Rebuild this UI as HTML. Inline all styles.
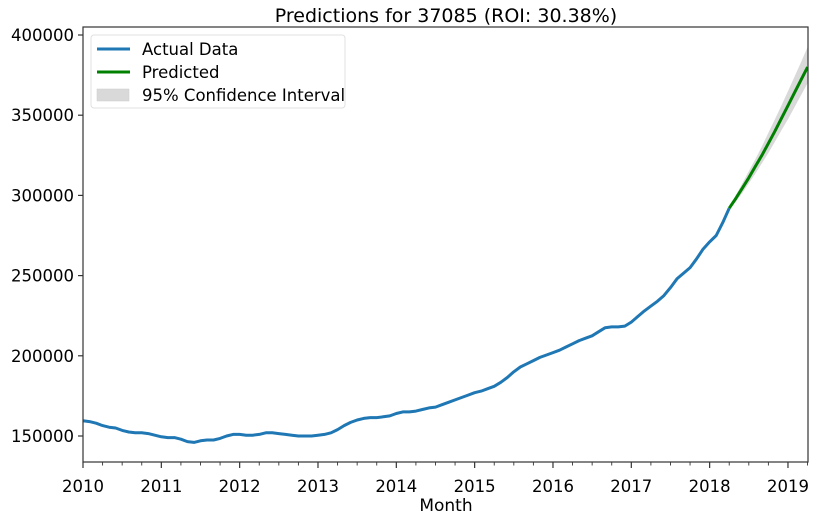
<!DOCTYPE html>
<html><head><meta charset="utf-8"><style>
body{margin:0;background:#fff;}
svg{display:block;font-family:"DejaVu Sans","Liberation Sans",sans-serif;}
</style></head><body>
<svg id="chart" width="816" height="521">
<text x="446" y="22" text-anchor="middle" font-size="19" fill="#000">Predictions for 37085 (ROI: 30.38%)</text>
<g id="plot"></g>
<text x="446" y="511" text-anchor="middle" font-size="17" fill="#000">Month</text>
</svg>
<script>
const actualValues=[159500,159000,158000,156500,155500,155000,153500,152500,152000,152000,151500,150500,
149500,149000,149000,148000,146500,146000,147000,147500,147500,148500,150000,151000,
151000,150500,150500,151000,152000,152000,151500,151000,150500,150000,150000,150000,
150500,151000,152000,154000,156500,158500,160000,161000,161500,161500,162000,162500,
164000,165000,165000,165500,166500,167500,168000,169500,171000,172500,174000,175500,
177000,178000,179500,181000,183500,186500,190000,193000,195000,197000,199000,200500,
202000,203500,205500,207500,209500,211000,212500,215000,217500,218000,218000,218500,
221000,224500,228000,231000,234000,237500,242500,248000,251500,255000,260500,266500,
271000,275000,283000,292000];
const predValues=[292000,298000,304500,311000,318000,325000,332500,340000,348000,356000,364000,372000,380000];
const ciLower=[292000,296000,301500,307500,313500,320000,326500,333500,340500,347500,355000,362500,370000];
const ciUpper=[292000,300000,307500,315000,322500,330500,339000,347500,356000,365000,374000,383000,392500];
const yTicks=[150000,200000,250000,300000,350000,400000];
const xTickYears=[2010,2011,2012,2013,2014,2015,2016,2017,2018,2019];
const startYear=2010, predStartIndex=99;

const L=83,R=808,T=27,B=462;
const xs=t=>L+(t-2010)*78.33;
const ys=v=>436-(v-150000)*0.001604;
const mx=i=>xs(startYear+i/12);
const ns="http://www.w3.org/2000/svg";
const g=document.getElementById('plot');
function mk(tag,attrs){const e=document.createElementNS(ns,tag);for(const k in attrs)e.setAttribute(k,attrs[k]);g.appendChild(e);return e;}

const defs=document.createElementNS(ns,'defs');
defs.innerHTML='<clipPath id="clip"><rect x="83" y="27" width="725" height="435"/></clipPath>';
g.appendChild(defs);

let d='';
ciUpper.forEach((v,i)=>{d+=(i?'L':'M')+mx(predStartIndex+i).toFixed(1)+','+ys(v).toFixed(1);});
for(let i=ciLower.length-1;i>=0;i--)d+='L'+mx(predStartIndex+i).toFixed(1)+','+ys(ciLower[i]).toFixed(1);
const band=mk('path',{d:d+'Z',fill:'#d9d9d9','clip-path':'url(#clip)'});



let da='';
actualValues.forEach((v,i)=>{da+=(i?'L':'M')+mx(i).toFixed(1)+','+ys(v).toFixed(1);});
const la=mk('path',{d:da,fill:'none',stroke:'#1f77b4','stroke-width':3,'stroke-linejoin':'round'});



let dp='';
predValues.forEach((v,i)=>{dp+=(i?'L':'M')+mx(predStartIndex+i).toFixed(1)+','+ys(v).toFixed(1);});
const lp=mk('path',{d:dp,fill:'none',stroke:'#008000','stroke-width':3,'stroke-linejoin':'round','clip-path':'url(#clip)'});



const frame=mk('rect',{x:L,y:T,width:R-L,height:B-T,fill:'none',stroke:'#333','stroke-width':1.2});



yTicks.forEach(v=>{
  const y=ys(v);
  const tk=mk('line',{x1:L-5,x2:L,y1:y,y2:y,stroke:'#333','stroke-width':1.2});
  
  
  const t=mk('text',{x:L-9,y:y+6,'text-anchor':'end','font-size':16.5,fill:'#000'});
  t.textContent=v;
  
  
});
for(let i=0;i<=111;i+=3){
  const x=mx(i);if(x>R+0.5)break;
  const major=i%12===0;
  const tk=mk('line',{x1:x,x2:x,y1:B,y2:B+(major?6:3.5),stroke:'#333','stroke-width':major?1.2:0.9});
  
  
}
xTickYears.forEach(yr=>{
  const t=mk('text',{x:xs(yr),y:B+30,'text-anchor':'middle','font-size':16.5,fill:'#000'});
  t.textContent=yr;
  
  
});

const lg=mk('rect',{x:91,y:35,width:254,height:73,rx:3,fill:'#fff',stroke:'#e0e0e0'});


const items=[['Actual Data','line','#1f77b4'],['Predicted','line','#008000'],['95% Confidence Interval','patch','#d9d9d9']];
items.forEach((it,i)=>{
  const y=49+i*23;
  let s;
  if(it[1]==='line')s=mk('line',{x1:97,x2:130,y1:y,y2:y,stroke:it[2],'stroke-width':3});
  else s=mk('rect',{x:97,y:y-6,width:32,height:12,fill:it[2],stroke:'#ccc','stroke-width':0.5});
  
  
  const t=mk('text',{x:142,y:y+6,'font-size':16.5,fill:'#000'});
  t.textContent=it[0];
  
  
});
</script>
</body></html>
